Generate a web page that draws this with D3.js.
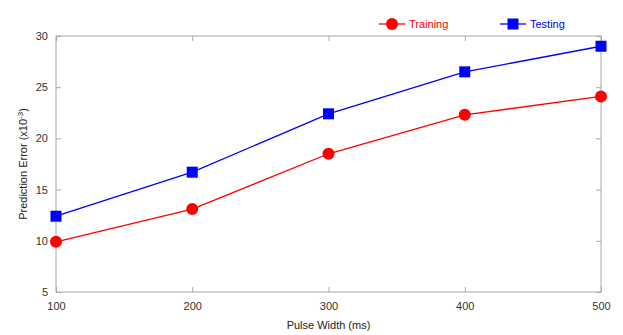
<!DOCTYPE html>
<html>
<head>
<meta charset="utf-8">
<script src="https://cdn.jsdelivr.net/npm/d3@7"></script>
<style>
    body { margin: 0; background: #fff; }
    text { font-family: "Liberation Sans", Arial, sans-serif; }
</style>
</head>
<body>
<div id="chart-container"></div>
<script>
const pulseWidths = [100, 200, 300, 400, 500];
const trainingError = [9.9, 13.1, 18.5, 22.3, 24.1];
const testingError = [12.4, 16.7, 22.4, 26.5, 29.0];
const yTicks = [5, 10, 15, 20, 25, 30];

const W = 623, H = 335;
const margin = { top: 36, right: 22, bottom: 43, left: 56 };
const width = W - margin.left - margin.right;
const height = H - margin.top - margin.bottom;
const axisColor = "#a8a8a8";

const svg = d3.select("#chart-container")
    .append("svg")
    .attr("width", W)
    .attr("height", H);

const g = svg.append("g")
    .attr("transform", `translate(${margin.left},${margin.top})`);

const xScale = d3.scaleLinear().domain([100, 500]).range([0, width]);
const yScale = d3.scaleLinear().domain([5, 30]).range([height, 0]);

// box with inward ticks on all sides
function styleAxis(sel) {
    sel.select(".domain").remove();
    sel.selectAll(".tick line").attr("stroke", axisColor);
    sel.selectAll(".tick text").attr("fill", "#333").style("font-size", "11px");
}

g.append("g")
    .attr("transform", `translate(0,${height})`)
    .call(d3.axisBottom(xScale).tickValues(pulseWidths).tickSizeInner(-5).tickPadding(10))
    .call(styleAxis);

g.append("g")
    .call(d3.axisTop(xScale).tickValues(pulseWidths).tickSizeInner(-5).tickFormat(""))
    .call(styleAxis);

g.append("g")
    .call(d3.axisLeft(yScale).tickValues(yTicks).tickSizeInner(-5).tickPadding(8))
    .call(styleAxis);

g.append("g")
    .attr("transform", `translate(${width},0)`)
    .call(d3.axisRight(yScale).tickValues(yTicks).tickSizeInner(-5).tickFormat(""))
    .call(styleAxis);

g.append("rect")
    .attr("width", width)
    .attr("height", height)
    .attr("fill", "none")
    .attr("stroke", axisColor)
    .attr("stroke-width", 1);

// axis labels
g.append("text")
    .attr("x", width / 2)
    .attr("y", height + 37)
    .attr("text-anchor", "middle")
    .style("font-size", "11px")
    .attr("fill", "#222")
    .text("Pulse Width (ms)");

const yLabel = g.append("text")
    .attr("transform", "rotate(-90)")
    .attr("x", -height / 2)
    .attr("y", -29)
    .attr("text-anchor", "middle")
    .style("font-size", "11px")
    .attr("fill", "#222");
yLabel.append("tspan").text("Prediction Error (x10");
yLabel.append("tspan").attr("dy", "-4").style("font-size", "8px").text("-3");
yLabel.append("tspan").attr("dy", "4").text(")");

const line = d3.line()
    .x((d, i) => xScale(pulseWidths[i]))
    .y(d => yScale(d));

const series = [
    { name: "Training", values: trainingError, color: "#ff0000", shape: "circle" },
    { name: "Testing", values: testingError, color: "#0000ff", shape: "square" }
];

function drawMarker(sel, shape, color) {
    if (shape === "circle") {
        sel.append("circle").attr("r", 6).attr("fill", color);
    } else {
        sel.append("rect")
            .attr("x", -5.5).attr("y", -5.5)
            .attr("width", 11).attr("height", 11)
            .attr("fill", color);
    }
}

series.forEach(s => {
    g.append("path")
        .datum(s.values)
        .attr("fill", "none")
        .attr("stroke", s.color)
        .attr("stroke-width", 1.3)
        .attr("d", line);

    g.selectAll(".pt-" + s.shape)
        .data(s.values)
        .enter()
        .append("g")
        .attr("class", "pt-" + s.shape)
        .attr("transform", (d, i) => `translate(${xScale(pulseWidths[i])},${yScale(d)})`)
        .each(function() { drawMarker(d3.select(this), s.shape, s.color); });
});

// legend
const legendX = [379, 500];
series.forEach((s, i) => {
    const lg = svg.append("g").attr("transform", `translate(${legendX[i]},24)`);
    lg.append("line")
        .attr("x1", 0).attr("x2", 26)
        .attr("stroke", s.color).attr("stroke-width", 1.3);
    drawMarker(lg.append("g").attr("transform", "translate(13,0)"), s.shape, s.color);
    lg.append("text")
        .attr("x", 30)
        .attr("y", 4)
        .style("font-size", "11px")
        .attr("fill", s.color)
        .text(s.name);
});
</script>
</body>
</html>
